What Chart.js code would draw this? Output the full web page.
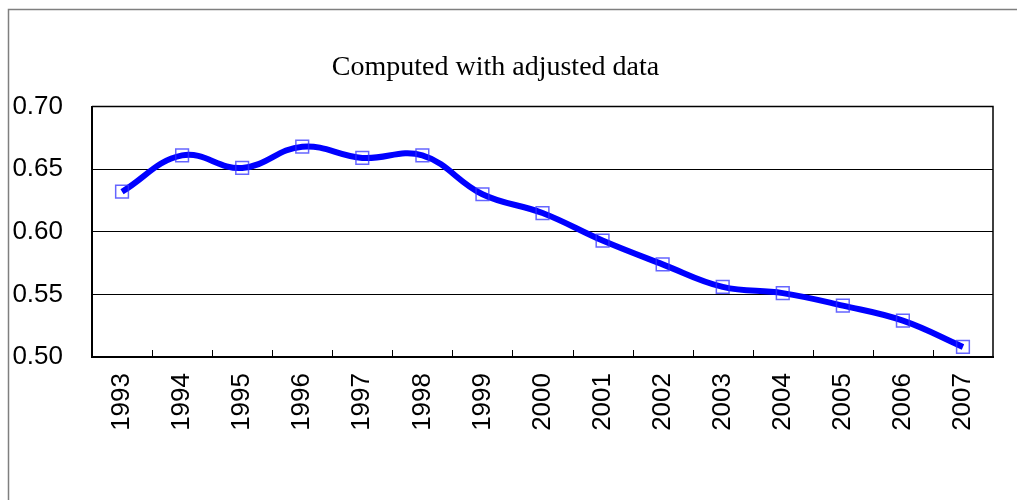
<!DOCTYPE html>
<html>
<head>
<meta charset="utf-8">
<title>Computed with adjusted data</title>
<script src="https://cdn.jsdelivr.net/npm/chart.js@4/dist/chart.umd.min.js"></script>
<style>
  html, body { margin: 0; padding: 0; background: #fff; }
  canvas { display: block; }
</style>
</head>
<body>
<canvas id="adjustedChart" width="1017" height="500"></canvas>
<script>
const chartTitle = 'Computed with adjusted data';
const years = ['1993', '1994', '1995', '1996', '1997', '1998', '1999', '2000',
  '2001', '2002', '2003', '2004', '2005', '2006', '2007'];
const adjustedValues = [0.632, 0.661, 0.651, 0.668, 0.659, 0.661, 0.630, 0.615,
  0.593, 0.574, 0.556, 0.551, 0.541, 0.529, 0.508];
const yTicks = [0.50, 0.55, 0.60, 0.65, 0.70];

// outer frame, title, plot box and the small category ticks inside the x axis
const frameAndTicks = {
  id: 'frameAndTicks',
  beforeDraw(chart) {
    const ctx = chart.ctx;
    ctx.save();
    ctx.strokeStyle = '#7f7f7f';
    ctx.lineWidth = 1.5;
    ctx.beginPath();
    ctx.moveTo(8.5, 520);
    ctx.lineTo(8.5, 9.5);
    ctx.lineTo(1030, 9.5);
    ctx.stroke();
    ctx.restore();
  },
  afterDraw(chart) {
    const ctx = chart.ctx;
    const area = chart.chartArea;
    const x = chart.scales.x;
    ctx.save();
    ctx.fillStyle = '#000';
    ctx.font = '28px "Liberation Serif"';
    ctx.textAlign = 'center';
    ctx.textBaseline = 'middle';
    ctx.fillText(chartTitle, 495.5, 68);

    ctx.strokeStyle = '#000';
    ctx.lineWidth = 1.5;
    ctx.beginPath();
    ctx.moveTo(area.left, area.top);
    ctx.lineTo(area.right, area.top);
    ctx.lineTo(area.right, area.bottom);
    ctx.stroke();
    ctx.lineWidth = 1;
    ctx.beginPath();
    for (let i = 1; i < years.length; i++) {
      const px = Math.round((x.getPixelForValue(i - 1) + x.getPixelForValue(i)) / 2) + 0.5;
      ctx.moveTo(px, area.bottom);
      ctx.lineTo(px, area.bottom - 7);
    }
    ctx.stroke();
    ctx.restore();
  }
};

new Chart(document.getElementById('adjustedChart'), {
  type: 'line',
  data: {
    labels: years,
    datasets: [{
      label: chartTitle,
      data: adjustedValues,
      borderColor: '#0000ff',
      borderWidth: 6,
      tension: 0.4,
      pointStyle: 'rect',
      pointRadius: 9,
      pointBorderWidth: 1.5,
      pointBorderColor: 'rgba(50, 50, 255, 0.75)',
      pointBackgroundColor: 'rgba(0, 0, 0, 0)'
    }]
  },
  options: {
    responsive: false,
    animation: false,
    layout: { padding: { left: 12, right: 24, top: 0, bottom: 69 } },
    plugins: {
      legend: { display: false },
      tooltip: { enabled: false },
      // kept for layout only, the visible title is drawn by the plugin
      title: {
        display: true,
        text: chartTitle,
        color: 'rgba(0, 0, 0, 0)',
        font: { family: 'Liberation Serif', size: 28, weight: 'normal' },
        padding: { top: 51, bottom: 22 }
      }
    },
    scales: {
      x: {
        offset: true,
        afterFit(scale) { scale.height = 74; },
        grid: { display: false, drawTicks: false },
        border: { display: true, color: '#000', width: 2 },
        ticks: {
          color: '#000',
          font: { family: 'Liberation Sans', size: 26 },
          minRotation: 90,
          maxRotation: 90,
          padding: 16,
          autoSkip: false
        }
      },
      y: {
        min: 0.5,
        max: 0.7,
        afterFit(scale) { scale.width = 80; },
        afterBuildTicks(scale) {
          scale.ticks = yTicks.map(v => ({ value: v }));
        },
        grid: { color: '#000', lineWidth: 1, drawTicks: false },
        border: { display: true, color: '#000', width: 2 },
        ticks: {
          color: '#000',
          font: { family: 'Liberation Sans', size: 26 },
          padding: 29,
          callback: v => v.toFixed(2)
        }
      }
    }
  },
  plugins: [frameAndTicks]
});
</script>
</body>
</html>
